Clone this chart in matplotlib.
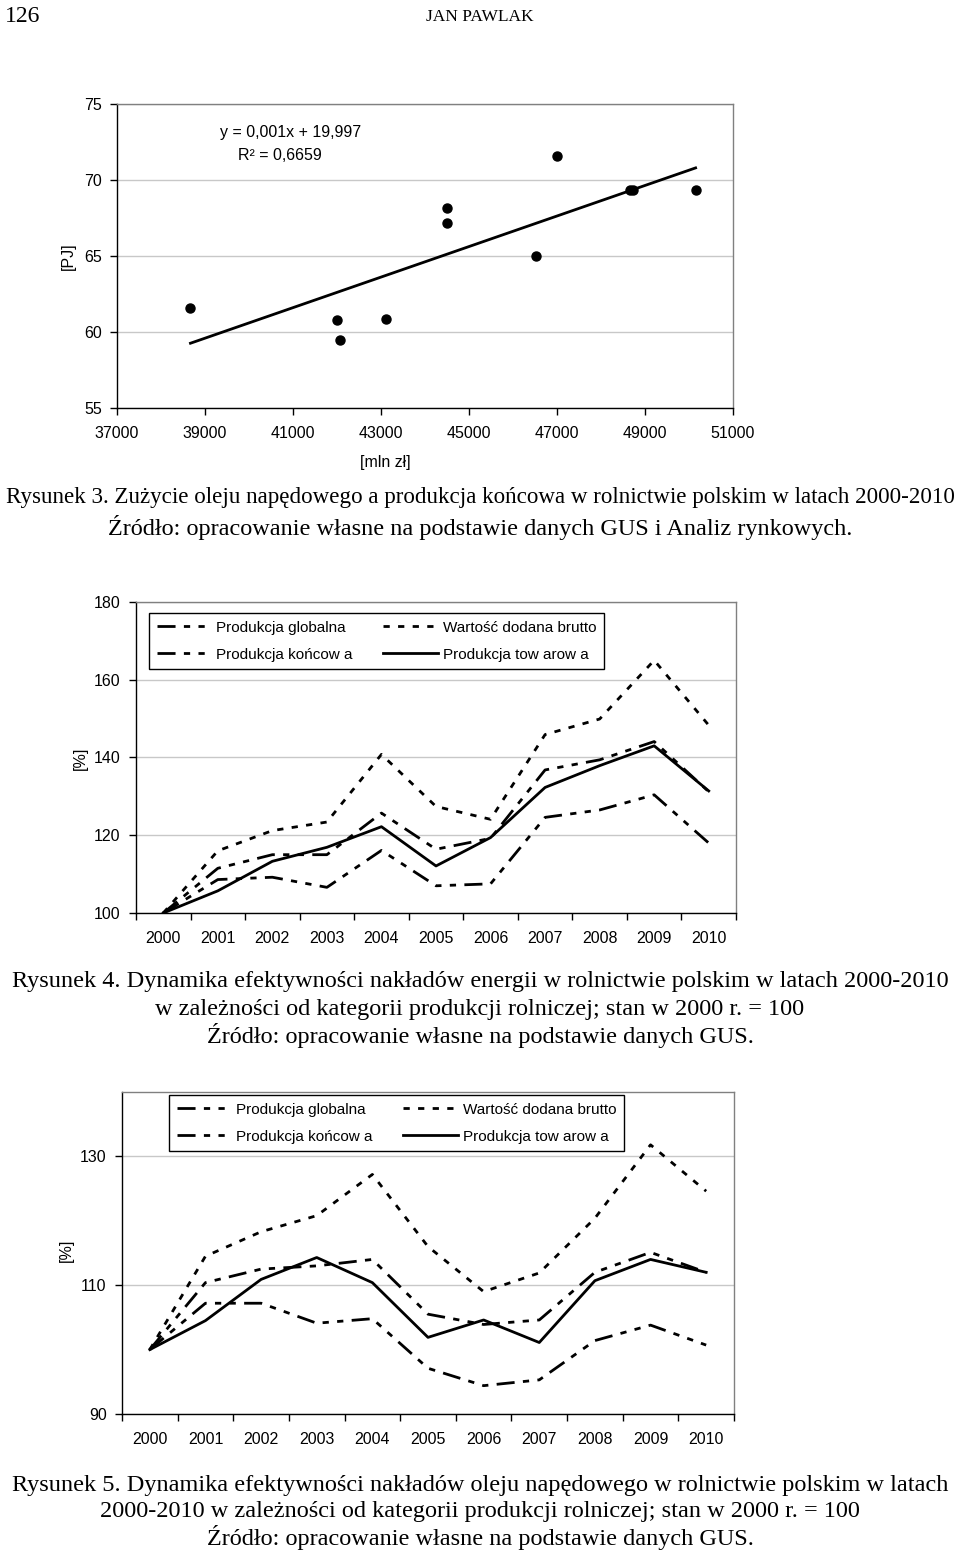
import numpy as np
import matplotlib
matplotlib.use('Agg')
import matplotlib.pyplot as plt

# --- data ---
# Rysunek 3: produkcja koncowa [mln zl] vs zuzycie oleju [PJ]
prod_konc = [38670, 42000, 42060, 43110, 44490, 44490, 46530, 46990, 48650, 48720, 50150]
olej_pj = [61.6, 60.8, 59.5, 60.85, 68.15, 67.2, 65.0, 71.55, 69.35, 69.35, 69.35]

years = ['2000', '2001', '2002', '2003', '2004', '2005', '2006', '2007', '2008', '2009', '2010']
labels = ['Produkcja globalna', 'Produkcja końcow a', 'Wartość dodana brutto', 'Produkcja tow arow a']

# Rysunek 4: energia
r4_globalna = [100, 111.5, 115.0, 115.0, 125.7, 116.4, 119.2, 136.8, 139.4, 144.1, 131.2]
r4_koncowa = [100, 108.6, 109.2, 106.6, 116.1, 107.0, 107.5, 124.6, 126.5, 130.4, 118.0]
r4_wartosc = [100, 116.0, 121.2, 123.4, 140.8, 127.4, 124.1, 145.9, 149.9, 165.0, 148.3]
r4_towarowa = [100, 105.7, 113.3, 116.9, 122.2, 112.1, 119.4, 132.3, 137.9, 143.0, 131.4]

# Rysunek 5: olej napedowy
r5_globalna = [100, 110.4, 112.5, 113.0, 114.0, 105.5, 103.9, 104.6, 112.0, 115.1, 112.0]
r5_koncowa = [100, 107.2, 107.2, 104.1, 104.8, 97.1, 94.4, 95.3, 101.4, 103.8, 100.7]
r5_wartosc = [100, 114.5, 118.3, 120.8, 127.2, 116.0, 109.0, 111.9, 120.4, 131.8, 124.6]
r5_towarowa = [100, 104.5, 110.9, 114.3, 110.4, 101.9, 104.6, 101.1, 110.7, 114.0, 112.0]

plt.rcParams['font.family'] = ['Liberation Sans', 'DejaVu Sans']
plt.rcParams['lines.scale_dashes'] = False
FS = 11.5
SERIF = ['Liberation Serif', 'DejaVu Serif']

fig = plt.figure(figsize=(9.6, 15.52), dpi=100)
W, H = 960.0, 1552.0


def axes_px(l, t, r, b):
    return fig.add_axes([l / W, 1 - b / H, (r - l) / W, (b - t) / H])


def style_frame(ax):
    ax.spines['left'].set_color('black')
    ax.spines['bottom'].set_color('black')
    ax.spines['top'].set_color('#808080')
    ax.spines['right'].set_color('#808080')
    for s in ax.spines.values():
        s.set_linewidth(1)
    ax.tick_params(axis='y', direction='out', length=5, width=1, labelsize=FS, pad=6)
    ax.yaxis.grid(True, color='#c8c8c8', lw=1)
    ax.set_axisbelow(True)


# ---------------- Rysunek 3 ----------------
ax1 = axes_px(117, 104, 733, 408)
ax1.plot(prod_konc, olej_pj, 'o', color='black', ms=6.5)
a, b = np.polyfit(prod_konc, olej_pj, 1)
xx = np.array([min(prod_konc), max(prod_konc)])
ax1.plot(xx, a * xx + b, color='black', lw=2)
ax1.set_xlim(37000, 51000)
ax1.set_ylim(55, 75)
ax1.set_xticks(np.arange(37000, 51001, 2000))
ax1.set_yticks([55, 60, 65, 70, 75])
style_frame(ax1)
ax1.tick_params(axis='x', direction='out', length=5, width=1, labelsize=FS, pad=8)
ax1.text(40950, 73.1, 'y = 0,001x + 19,997', ha='center', va='center', fontsize=FS)
ax1.text(40700, 71.6, 'R² = 0,6659', ha='center', va='center', fontsize=FS)
fig.text(68 / W, 1 - 256 / H, '[PJ]', rotation=90, ha='center', va='center', fontsize=FS)
fig.text(385 / W, 1 - 463 / H, '[mln zł]', ha='center', va='center', fontsize=FS)


def line_chart(ax, glob, konc, wart, tow, ylim, yticks, leg_anchor):
    x = np.arange(len(years))
    ax.plot(x, glob, color='black', lw=2, dashes=(13, 6, 4.5, 6, 4.5, 6), label=labels[0])
    ax.plot(x, konc, color='black', lw=2, dashes=(13, 6, 4.5, 6, 4.5, 6), label=labels[1])
    ax.plot(x, wart, color='black', lw=2, dashes=(4.5, 6), label=labels[2])
    ax.plot(x, tow, color='black', lw=2, label=labels[3])
    ax.set_xlim(-0.5, len(years) - 0.5)
    ax.set_ylim(*ylim)
    ax.set_yticks(yticks)
    ax.set_xticks(x)
    ax.set_xticklabels(years)
    ax.set_xticks(np.arange(-0.5, len(years), 1), minor=True)
    style_frame(ax)
    ax.tick_params(axis='x', which='major', length=0, labelsize=FS, pad=13)
    ax.tick_params(axis='x', which='minor', direction='out', length=5, width=1)
    leg = ax.legend(ncol=2, loc='upper left', bbox_to_anchor=leg_anchor, fontsize=11,
                    frameon=True, fancybox=False, edgecolor='black', framealpha=1,
                    borderaxespad=0, borderpad=0.5, handlelength=3.6, handletextpad=0.3,
                    columnspacing=2.0, labelspacing=0.85)
    leg.get_frame().set_linewidth(1)


# ---------------- Rysunek 4 ----------------
ax2 = axes_px(136, 602, 736, 913)
line_chart(ax2, r4_globalna, r4_koncowa, r4_wartosc, r4_towarowa,
           (100, 180), [100, 120, 140, 160, 180], (0.022, 0.965))
fig.text(80 / W, 1 - 758 / H, '[%]', rotation=90, ha='center', va='center', fontsize=FS)

# ---------------- Rysunek 5 ----------------
ax3 = axes_px(122, 1092, 734, 1414)
line_chart(ax3, r5_globalna, r5_koncowa, r5_wartosc, r5_towarowa,
           (90, 140), [90, 110, 130], (0.077, 0.991))
fig.text(66 / W, 1 - 1250 / H, '[%]', rotation=90, ha='center', va='center', fontsize=FS)

# ---------------- page texts ----------------
fig.text(5 / W, 1 - 17 / H, '126', ha='left', va='center', fontsize=17, family=SERIF)
fig.text(480 / W, 1 - 17 / H, 'JAN PAWLAK', ha='center', va='center', fontsize=12.5, family=SERIF)

captions = [
    (498, 16.6, 'Rysunek 3. Zużycie oleju napędowego a produkcja końcowa w rolnictwie polskim w latach 2000-2010'),
    (527, 17.5, 'Źródło: opracowanie własne na podstawie danych GUS i Analiz rynkowych.'),
    (982, 17.5, 'Rysunek 4. Dynamika efektywności nakładów energii w rolnictwie polskim w latach 2000-2010'),
    (1009, 17.5, 'w zależności od kategorii produkcji rolniczej; stan w 2000 r. = 100'),
    (1036, 17.5, 'Źródło: opracowanie własne na podstawie danych GUS.'),
    (1485, 17.5, 'Rysunek 5. Dynamika efektywności nakładów oleju napędowego w rolnictwie polskim w latach'),
    (1511, 17.5, '2000-2010 w zależności od kategorii produkcji rolniczej; stan w 2000 r. = 100'),
    (1538, 17.5, 'Źródło: opracowanie własne na podstawie danych GUS.'),
]
for y, fs, t in captions:
    fig.text(480 / W, 1 - y / H, t, ha='center', va='center', fontsize=fs, family=SERIF)

fig.savefig('out.png', dpi=100)
